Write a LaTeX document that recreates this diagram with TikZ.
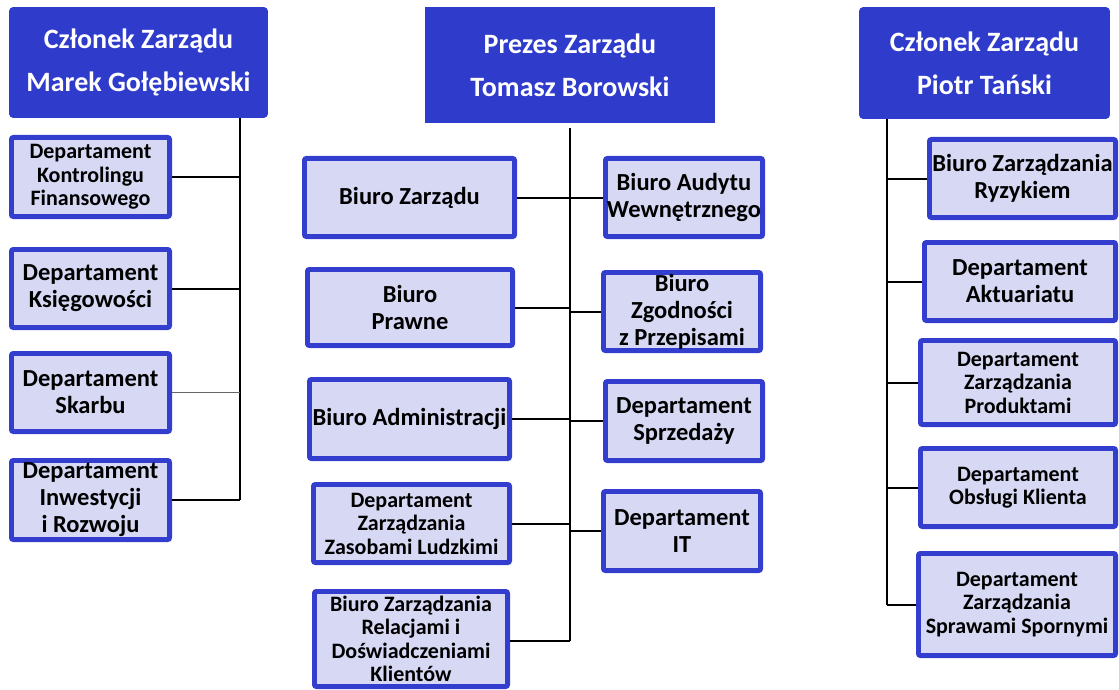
\documentclass[tikz,border=0pt]{standalone}
\usepackage{fontspec}
\setmainfont{Carlito}
\definecolor{hdr}{RGB}{46,59,203}
\definecolor{ubd}{RGB}{52,62,206}
\definecolor{ufill}{RGB}{214,216,244}
\tikzset{
  head/.style={fill=hdr, draw=hdr, line width=4.5pt, rounded corners=2pt, text=white, align=center, inner sep=0pt,
    font=\fontsize{28}{43}\selectfont\bfseries},
  headsharp/.style={head, rounded corners=0pt},
  big/.style={fill=ufill, draw=ubd, line width=4.8pt, rounded corners=2pt, align=center, inner sep=0pt,
    font=\fontsize{24.5}{27}\selectfont\bfseries},
  small/.style={big, font=\fontsize{22}{23.5}\selectfont\bfseries},
  conn/.style={draw=black, line width=2pt},
  thinconn/.style={draw=black!60, line width=1pt}
}
\newcommand\ubox[7]{%
  \node[#6, minimum width={(#4-#2-4.8)*1pt}, minimum height={(#5-#3-4.8)*1pt}] (#1) at ({(#2+#4)/2},{(#3+#5)/2}) {#7};}
\begin{document}
\begin{tikzpicture}[x=1pt,y=-1pt]
\useasboundingbox (0,0) rectangle (1119,690);
% headers
\ubox{lh}{9}{7}{268}{118}{head}{Członek Zarządu\\Marek Gołębiewski}
\ubox{mh}{425}{7}{715}{123}{headsharp}{Prezes Zarządu\\Tomasz Borowski}
\ubox{rh}{859}{7}{1110}{119}{head}{Członek Zarządu\\Piotr Tański}
% left column
\ubox{l1}{9}{135}{172}{219}{small}{Departament\\Kontrolingu\\Finansowego}
\ubox{l2}{9}{247}{172}{330}{big}{Departament\\Księgowości}
\ubox{l3}{9}{351}{172}{434}{big}{Departament\\Skarbu}
\ubox{l4}{9}{458}{172}{542}{big}{Departament\\Inwestycji\\i Rozwoju}
% middle left
\ubox{m1}{302}{156}{517}{239}{big}{Biuro Zarządu}
\ubox{m2}{305}{267}{515}{348}{big}{Biuro\\Prawne}
\ubox{m3}{307}{377}{512}{461}{big}{Biuro Administracji}
\ubox{m4}{311}{482}{512}{565}{small}{Departament\\Zarządzania\\Zasobami Ludzkimi}
\ubox{m5}{312}{589}{510}{689}{small}{Biuro Zarządzania\\Relacjami i\\Doświadczeniami\\Klientów}
% middle right
\ubox{n1}{603}{156}{765}{239}{big}{Biuro Audytu\\Wewnętrznego}
\ubox{n2}{601}{270}{763}{353}{big}{Biuro\\Zgodności\\z Przepisami}
\ubox{n3}{603}{379}{765}{463}{big}{Departament\\Sprzedaży}
\ubox{n4}{601}{489}{763}{573}{big}{Departament\\IT}
% right column
\ubox{r1}{927}{137}{1118}{220}{big}{Biuro Zarządzania\\Ryzykiem}
\ubox{r2}{922}{240}{1118}{323}{big}{Departament\\Aktuariatu}
\ubox{r3}{918}{338}{1118}{427}{small}{Departament\\Zarządzania\\Produktami}
\ubox{r4}{918}{446}{1118}{529}{small}{Departament\\Obsługi Klienta}
\ubox{r5}{916}{551}{1118}{658}{small}{Departament\\Zarządzania\\Sprawami Spornymi}
% trunk coordinates
\coordinate (lt) at (240,500);
\coordinate (mt) at (570,641);
\coordinate (rt) at (887,605);
\coordinate (mtop) at (570,128);
% left connectors
\draw[conn] (lh.south -| lt) -- (lt);
\draw[conn] (l1.east) -- (l1.east -| lt);
\draw[conn] (l2.east) -- (l2.east -| lt);
\draw[thinconn] (l3.east) -- (l3.east -| lt);
\draw[conn] (l4.east) -- (l4.east -| lt);
% middle connectors
\draw[conn] (mtop) -- (mt);
\draw[conn] (m1.east) -- (m1.east -| mt);
\draw[conn] (m2.east) -- (m2.east -| mt);
\draw[conn] (m3.east) -- (m3.east -| mt);
\draw[conn] (m4.east) -- (m4.east -| mt);
\draw[conn] ([yshift=-2pt]m5.east) -- ([yshift=-2pt]m5.east -| mt);
\draw[conn] (n1.west) -- (n1.west -| mt);
\draw[conn] (n2.west) -- (n2.west -| mt);
\draw[conn] (n3.west) -- (n3.west -| mt);
\draw[conn] (n4.west) -- (n4.west -| mt);
% right connectors
\draw[conn] (rh.south -| rt) -- (rt);
\draw[conn] (r1.west) -- (r1.west -| rt);
\draw[conn] (r2.west) -- (r2.west -| rt);
\draw[conn] (r3.west) -- (r3.west -| rt);
\draw[conn] (r4.west) -- (r4.west -| rt);
\draw[conn] (r5.west) -- (r5.west -| rt);
\end{tikzpicture}
\end{document}
